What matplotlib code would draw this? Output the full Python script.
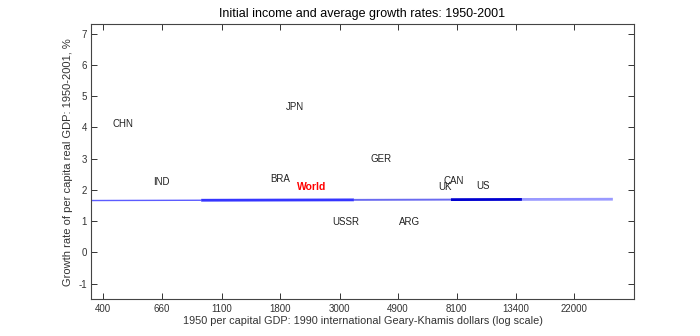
import matplotlib
matplotlib.use("Agg")
import matplotlib.pyplot as plt
import numpy as np

plt.rcParams['font.family'] = ['Liberation Sans', 'DejaVu Sans']
plt.rcParams['axes.unicode_minus'] = False

# Country data: 1950 GDP per capita (1990 GK $) and growth 1950-2001 (%)
countries = ["CHN", "JPN", "IND", "BRA", "USSR", "GER", "ARG", "UK", "CAN", "US"]
gdp1950 = [434, 1898, 612, 1656, 2821, 3896, 4968, 6920, 7260, 9530]
growth = [4.11, 4.65, 2.25, 2.34, 0.96, 2.98, 0.96, 2.10, 2.29, 2.12]

world_label = "World"
world_gdp = 2088
world_growth = 2.08

# Fitted line segments (break points along x, growth at those points)
line_x = [365, 923, 3380, 7708, 14090, 30500]
line_y = [1.663, 1.672, 1.684, 1.692, 1.698, 1.705]
seg_colors = ["#5c5cff", "#3535ff", "#6a6af0", "#0000d0", "#9a9aff"]
seg_widths = [1.0, 2.0, 1.4, 2.0, 2.0]

xticks = [400, 660, 1100, 1800, 3000, 4900, 8100, 13400, 22000]
xticklabels = ["400", "660", "1100", "1800", "3000", "4900", "8100", "13400", "22000"]
yticks = [-1, 0, 1, 2, 3, 4, 5, 6, 7]

fig = plt.figure(figsize=(7.0, 3.36), dpi=100)
ax = fig.add_axes([0.13, 0.109, 0.7757, 0.8185])

for i in range(len(seg_colors)):
    ax.plot(line_x[i:i + 2], line_y[i:i + 2], color=seg_colors[i],
            lw=seg_widths[i], solid_capstyle='butt')

for name, xv, yv in zip(countries, gdp1950, growth):
    ax.text(xv, yv, name, ha='left', va='center', fontsize=7, color='#222222')
ax.text(world_gdp, world_growth, world_label, ha='left', va='center',
        fontsize=7.5, color='#ff0000', fontweight='bold')

ax.set_xscale('log')
ax.set_xlim(362, 36500)
ax.set_ylim(-1.5, 7.3)
ax.set_xticks(xticks)
ax.set_xticklabels(xticklabels)
ax.xaxis.set_minor_locator(matplotlib.ticker.NullLocator())
ax.set_yticks(yticks)

ax.tick_params(direction='in', length=4, width=0.7, top=True, right=True,
               labelsize=7, colors='#333333', pad=3)
for s in ax.spines.values():
    s.set_color('#444444')
    s.set_linewidth(0.8)

ax.set_title("Initial income and average growth rates: 1950-2001", fontsize=9, pad=5)
ax.set_xlabel("1950 per capital GDP: 1990 international Geary-Khamis dollars (log scale)",
              fontsize=7.8, color='#333333', labelpad=2)
ax.set_ylabel("Growth rate of per capita real GDP: 1950-2001, %", fontsize=8,
              color='#333333', labelpad=4)

fig.savefig("out.png", dpi=100)
